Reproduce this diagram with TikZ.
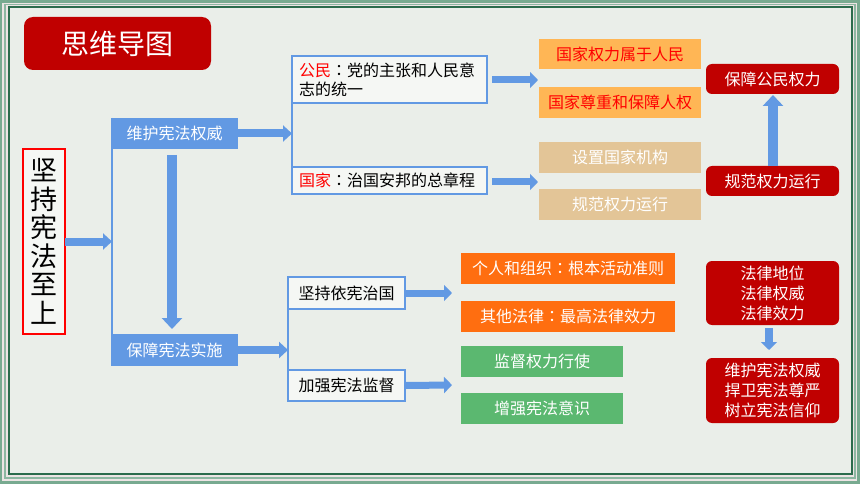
\documentclass[tikz,border=0pt]{standalone}
\usepackage{fontspec}
\setmainfont{Noto Sans CJK SC}
\newfontfamily\jpfont{Noto Sans CJK JP}
\newcommand{\fwcolon}{{\jpfont ：}}
\usetikzlibrary{arrows.meta}
\definecolor{framegreen}{HTML}{78AA90}
\definecolor{framelight}{HTML}{ECE4E4}
\definecolor{framedark}{HTML}{2B6B4C}
\definecolor{bgc}{HTML}{EAEEE9}
\definecolor{titlered}{HTML}{C00000}
\definecolor{arrowblue}{HTML}{6299E3}
\definecolor{boxfill}{HTML}{F5F7F4}
\definecolor{lorange}{HTML}{FFB655}
\definecolor{tan}{HTML}{E3C597}
\definecolor{dorange}{HTML}{FF6E10}
\definecolor{lgreen}{HTML}{5BB870}
\definecolor{textred}{HTML}{FF0000}
\tikzset{
  base/.style={inner sep=0pt, outer sep=0pt, font=\fontsize{16}{20}\selectfont},
  bluefill/.style={base, fill=arrowblue, text=white},
  outlinebox/.style={base, draw=arrowblue, line width=2pt, fill=boxfill, text=black},
  colbox/.style={base, fill=#1, text=white},
  redbox/.style={base, fill=titlered, text=white, rounded corners=6pt, align=center},
  harrow/.style={color=arrowblue, line width=8pt, -{Triangle[width=16pt,length=9pt]}},
  bigarrow/.style={color=arrowblue, line width=10pt, -{Triangle[width=20pt,length=11pt]}},
  smallarrow/.style={color=arrowblue, line width=7pt, -{Triangle[width=16pt,length=8pt]}},
  bracketline/.style={draw=arrowblue, line width=2pt}
}
\begin{document}
\begin{tikzpicture}[x=1pt,y=-1pt]
\useasboundingbox (0,0) rectangle (860,484);
% frame
\fill[framegreen] (0,0) rectangle (860,484);
\fill[framelight] (2,3) rectangle (857,481);
\draw[framegreen!85!white, line width=1.5pt] (5,4.5) rectangle (855,478);
\draw[framedark, line width=2pt, fill=bgc] (9,7) rectangle (852,474);

% title
\node[redbox, minimum width=187pt, minimum height=53pt, rounded corners=9pt,
      font=\fontsize{28}{30}\selectfont] (title) at (117.5,43.5) {思维导图};

% vertical main box
\node[base, draw=red, line width=2pt, fill=boxfill, minimum width=42pt, minimum height=185pt,
      align=center, font=\fontsize{27}{28.5}\selectfont] (main) at (44,241.5)
      {坚\\持\\宪\\法\\至\\上};

% level 1
\node[bluefill, minimum width=127pt, minimum height=31pt] (a1) at (174.5,133.5) {维护宪法权威};
\node[bluefill, minimum width=127pt, minimum height=32pt] (a2) at (174.5,350) {保障宪法实施};
\draw[bracketline] (a1.north west) ++(1pt,0) coordinate (l1top) -- (a2.south west -| l1top);
\coordinate (l1in) at (l1top |- main.east);
\draw[harrow] (main.east) -- (l1in);
\draw[bigarrow] ([yshift=-6pt]a1.south -| 172,0) -- ([yshift=5pt]a2.north -| 172,0);

% level 2 upper
\node[outlinebox, minimum width=195pt, minimum height=47pt, text width=181pt, align=left,
      font=\fontsize{16}{19}\selectfont] (b1) at (389.5,79.5)
      {\textcolor{textred}{公民}\fwcolon 党的主张和人民意\\志的统一};
\node[outlinebox, minimum width=195pt, minimum height=27pt, text width=181pt, align=left] (b2) at (389.5,180.5)
      {\textcolor{textred}{国家}\fwcolon 治国安邦的总章程};
\draw[bracketline] (b1.north west) -- (b2.south west);
\coordinate (ub) at (b1.west |- a1.east);
\draw[harrow] (a1.east) -- (ub);

% level 2 lower
\node[outlinebox, minimum width=117pt, minimum height=32pt] (e1) at (346.5,293) {坚持依宪治国};
\node[outlinebox, minimum width=117pt, minimum height=31pt] (e2) at (346.5,385.5) {加强宪法监督};
\draw[bracketline] (e1.north west) -- (e2.south west);
\coordinate (lb) at (e1.west |- a2.east);
\draw[harrow] (a2.east) -- (lb);

% level 3 upper
\node[colbox=lorange, text=textred, minimum width=162pt, minimum height=30pt] (c1) at (620,54) {国家权力属于人民};
\node[colbox=lorange, text=textred, minimum width=162pt, minimum height=31pt] (c2) at (620,102.5) {国家尊重和保障人权};
\node[colbox=tan, minimum width=162pt, minimum height=31pt] (c3) at (620,157.5) {设置国家机构};
\node[colbox=tan, minimum width=162pt, minimum height=31pt] (c4) at (620,204.5) {规范权力运行};
\coordinate (t1) at (538,80);
\coordinate (t2) at (538,182);
\draw[smallarrow] ([xshift=5pt]b1.east |- t1) -- (t1);
\draw[smallarrow] ([xshift=5pt]b2.east |- t2) -- (t2);

% level 3 lower
\node[colbox=dorange, minimum width=214pt, minimum height=31pt] (f1) at (568,268.5) {个人和组织\fwcolon 根本活动准则};
\node[colbox=dorange, minimum width=214pt, minimum height=31pt] (f2) at (568,316.5) {其他法律\fwcolon 最高法律效力};
\node[colbox=lgreen, minimum width=162pt, minimum height=31pt] (g1) at (542,361.5) {监督权力行使};
\node[colbox=lgreen, minimum width=162pt, minimum height=31pt] (g2) at (542,408.5) {增强宪法意识};
\coordinate (t3) at (452,293);
\coordinate (t4) at (452,385);
\draw[smallarrow] ([xshift=1pt]e1.east) -- (t3);
\draw[smallarrow] ([xshift=1pt]e2.east) -- (t4);

% right red boxes
\node[redbox, minimum width=133pt, minimum height=30pt] (d1) at (772.5,79) {保障公民权力};
\node[redbox, minimum width=133pt, minimum height=30pt] (d2) at (772.5,181) {规范权力运行};
\draw[bigarrow] (d2.north -| 773,0) -- ([yshift=-1pt]d1.south -| 773,0);

\node[redbox, minimum width=133pt, minimum height=64pt] (h1) at (772.5,293) {法律地位\\法律权威\\法律效力};
\node[redbox, minimum width=133pt, minimum height=65pt] (h2) at (772.5,390.5) {维护宪法权威\\捍卫宪法尊严\\树立宪法信仰};
\draw[color=arrowblue, line width=8pt, -{Triangle[width=16pt,length=8pt]}] ([yshift=-3pt]h1.south -| 769,0) -- ([yshift=8pt]h2.north -| 769,0);
\end{tikzpicture}
\end{document}
